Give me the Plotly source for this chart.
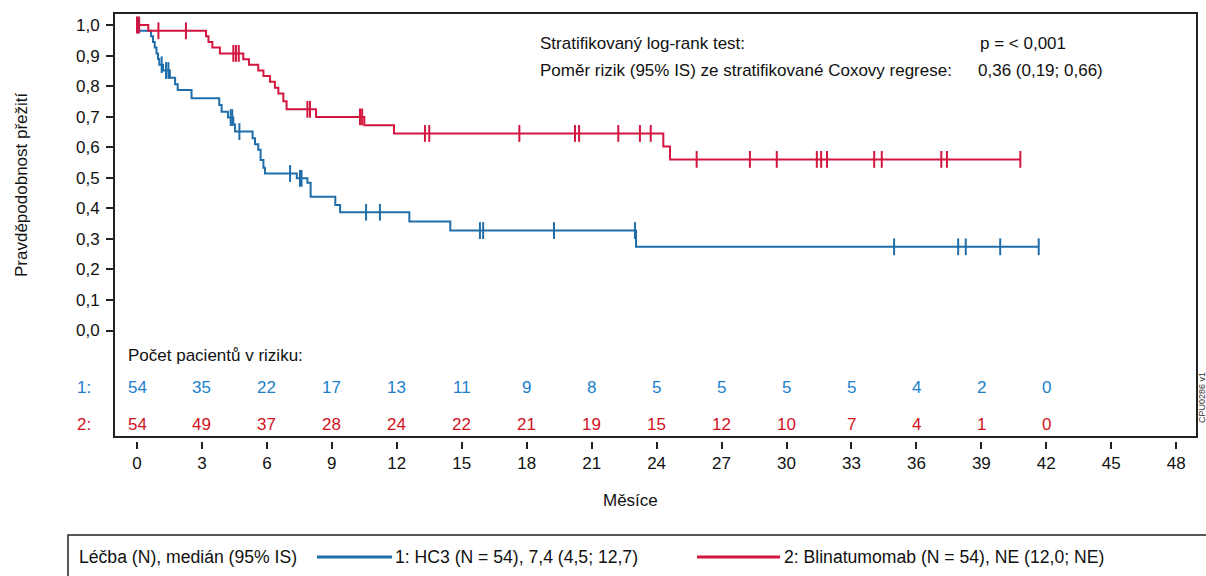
import numpy as np
import plotly.graph_objects as go

# ---------------- data ----------------
months_ticks = list(range(0, 49, 3))

# Arm 1: HC3 (Kaplan-Meier step points: time in months, survival probability)
hc3_t = [0, 0.09, 0.65, 0.74, 0.82, 0.9, 0.97, 1.03, 1.2, 1.52, 1.76, 1.88, 2.52,
         3.8, 3.91, 4.2, 4.45, 4.53, 5.34, 5.45, 5.6, 5.71, 5.84, 5.91, 7.38, 7.87,
         8.02, 9.16, 9.38, 12.58, 14.47, 23.05]
hc3_s = [1.0, 0.981, 0.963, 0.944, 0.926, 0.907, 0.889, 0.870, 0.851, 0.827, 0.806,
         0.787, 0.760, 0.738, 0.716, 0.697, 0.674, 0.651, 0.629, 0.610, 0.592, 0.558,
         0.533, 0.514, 0.498, 0.484, 0.438, 0.411, 0.387, 0.357, 0.327, 0.274]
hc3_end = 41.65
hc3_censor = [0.05, 1.14, 1.34, 1.45, 4.33, 4.4, 4.73, 7.07, 7.53, 7.6, 10.58, 11.22,
              15.84, 15.99, 19.26, 23.0, 34.97, 37.93, 38.28, 39.87, 41.65]

# Arm 2: Blinatumomab
blin_t = [0, 0.52, 3.19, 3.3, 3.48, 3.83, 4.91, 5.17, 5.6, 5.84, 6.14, 6.37, 6.53,
          6.76, 6.91, 8.27, 10.5, 11.87, 24.31, 24.62]
blin_s = [1.0, 0.981, 0.963, 0.944, 0.926, 0.907, 0.888, 0.870, 0.851, 0.833, 0.814,
          0.795, 0.776, 0.750, 0.724, 0.699, 0.672, 0.645, 0.602, 0.560]
blin_end = 40.8
blin_censor = [0.0, 0.1, 0.99, 2.26, 4.45, 4.57, 4.7, 7.87, 7.99, 10.3, 10.4, 13.3, 13.5,
               17.66, 20.23, 20.42, 22.23, 23.23, 23.73, 25.85, 28.31, 29.55, 31.4, 31.6,
               31.87, 34.05, 34.4, 37.15, 37.41, 40.8]

risk_times = list(range(0, 43, 3))
risk_hc3 = [54, 35, 22, 17, 13, 11, 9, 8, 5, 5, 5, 5, 4, 2, 0]
risk_blin = [54, 49, 37, 28, 24, 22, 21, 19, 15, 12, 10, 7, 4, 1, 0]

legend_lead = "Léčba (N), medián (95% IS)"
legend_hc3 = "1: HC3 (N = 54), 7,4 (4,5; 12,7)"
legend_blin = "2: Blinatumomab (N = 54), NE (12,0; NE)"

# ---------------- style ----------------
BLUE = "#1f6eaa"
RED = "#d3163f"
BLUE_TXT = "#1b7fcc"
RED_TXT = "#d0121e"
DARK = "#222222"
TXT = "#111111"
FONT = "Liberation Sans, Arial, sans-serif"
FS = 17

# plot area in pixels
L, R, T, B = 114, 1197, 13, 441
W_AREA, H_AREA = R - L, B - T


def px(x):
    return (x - L) / W_AREA


def py(y):
    return (B - y) / H_AREA


def surv_at(ts, ss, c):
    ts = np.asarray(ts)
    ss = np.asarray(ss)
    i = np.searchsorted(ts, c, side="right") - 1
    return ss[i]


fig = go.Figure()

for ts, ss, tend, cens, col in [
    (hc3_t, hc3_s, hc3_end, hc3_censor, BLUE),
    (blin_t, blin_s, blin_end, blin_censor, RED),
]:
    fig.add_trace(go.Scatter(
        x=list(ts) + [tend], y=list(ss) + [ss[-1]],
        mode="lines", line=dict(color=col, width=2, shape="hv"),
        hoverinfo="skip"))
    fig.add_trace(go.Scatter(
        x=cens, y=[float(surv_at(ts, ss, c)) for c in cens],
        mode="markers",
        marker=dict(symbol="line-ns-open", size=12, color=col,
                    line=dict(color=col, width=2)),
        hoverinfo="skip"))

ann = []

# risk table
ann.append(dict(text="Počet pacientů v riziku:", x=px(126), y=py(355), xref="paper",
                yref="paper", xanchor="left", yanchor="middle", showarrow=False,
                font=dict(size=FS, color=TXT, family=FONT)))
for lab, row, col, yy in [("1:", risk_hc3, BLUE_TXT, 387), ("2:", risk_blin, RED_TXT, 424)]:
    ann.append(dict(text=lab, x=px(84), y=py(yy), xref="paper", yref="paper",
                    xanchor="center", yanchor="middle", showarrow=False,
                    font=dict(size=FS, color=col, family=FONT)))
    for t, n in zip(risk_times, row):
        ann.append(dict(text=str(n), x=t, y=py(yy), xref="x", yref="paper",
                        xanchor="center", yanchor="middle", showarrow=False,
                        font=dict(size=FS, color=col, family=FONT)))

# stats
for text, x, y in [
    ("Stratifikovaný log-rank test:", 538, 44),
    ("p = < 0,001", 978, 44),
    ("Poměr rizik (95% IS) ze stratifikované Coxovy regrese:", 538, 70),
    ("0,36 (0,19; 0,66)", 976, 70),
]:
    ann.append(dict(text=text, x=px(x), y=py(y), xref="paper", yref="paper",
                    xanchor="left", yanchor="middle", showarrow=False,
                    font=dict(size=FS, color=TXT, family=FONT)))

# axis titles
ann.append(dict(text="Měsíce", x=px(630), y=py(500), xref="paper", yref="paper",
                xanchor="center", yanchor="middle", showarrow=False,
                font=dict(size=FS, color=TXT, family=FONT)))
ann.append(dict(text="Pravděpodobnost přežití", x=px(21), y=py(185), xref="paper",
                yref="paper", xanchor="center", yanchor="middle", textangle=-90,
                showarrow=False, font=dict(size=FS, color=TXT, family=FONT)))

# side code
ann.append(dict(text="CPU0286 v1", x=px(1202), y=py(398), xref="paper", yref="paper",
                xanchor="center", yanchor="middle", textangle=-90, showarrow=False,
                font=dict(size=9, color="#333333", family=FONT)))

# legend texts
for text, x in [(legend_lead, 77), (legend_hc3, 393), (legend_blin, 782)]:
    ann.append(dict(text=text, x=px(x), y=py(557), xref="paper", yref="paper",
                    xanchor="left", yanchor="middle", showarrow=False,
                    font=dict(size=17.6, color=TXT, family=FONT)))

shapes = [
    # frame
    dict(type="rect", xref="paper", yref="paper", x0=0, x1=1, y0=py(437), y1=1,
         line=dict(color=DARK, width=2)),
    # legend box
    dict(type="rect", xref="paper", yref="paper", x0=px(68), x1=px(1240),
         y0=py(590), y1=py(535), line=dict(color=DARK, width=1.5)),
    # legend keys
    dict(type="line", xref="paper", yref="paper", x0=px(317), x1=px(392),
         y0=py(557), y1=py(557), line=dict(color=BLUE, width=3)),
    dict(type="line", xref="paper", yref="paper", x0=px(697), x1=px(780),
         y0=py(557), y1=py(557), line=dict(color=RED, width=3)),
]

x_min = (L - 137) / 21.65
x_max = (R - 137) / 21.65
y_min = (330.5 - B) / 305.5
y_max = (330.5 - T) / 305.5

fig.update_layout(
    width=1206, height=576, autosize=False,
    margin=dict(l=L, r=1206 - R, t=T, b=576 - B, pad=0),
    plot_bgcolor="white", paper_bgcolor="white",
    showlegend=False, separators=", ",
    font=dict(family=FONT, size=FS, color=TXT),
    annotations=ann, shapes=shapes,
    xaxis=dict(range=[x_min, x_max], tickvals=months_ticks, ticks="outside",
               ticklen=7, tickwidth=2, tickcolor=DARK, showgrid=False,
               zeroline=False, showline=False, ticklabelstandoff=0,
               tickfont=dict(size=FS, color=TXT, family=FONT)),
    yaxis=dict(range=[y_min, y_max], tickvals=[i / 10 for i in range(11)],
               tickformat=".1f", ticks="outside", ticklen=7, tickwidth=2,
               tickcolor=DARK, showgrid=False, zeroline=False, showline=False,
               ticklabelstandoff=3,
               tickfont=dict(size=FS, color=TXT, family=FONT)),
)

fig.write_html(
    "out.html",
    config={"displayModeBar": False},
    post_script="document.body.style.margin='0';document.body.style.overflow='hidden';",
)
